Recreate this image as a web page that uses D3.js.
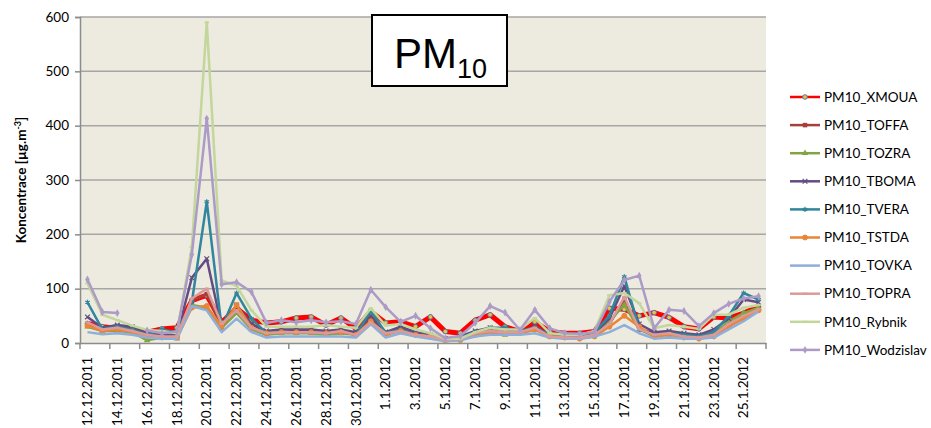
<!DOCTYPE html>
<html>
<head>
<meta charset="utf-8">
<script src="https://cdn.jsdelivr.net/npm/d3@7"></script>
<style>
  body { margin: 0; background: #fff; }
  text { font-family: Lato, "Liberation Sans", sans-serif; }
</style>
</head>
<body>
<script>
// PM10 concentrations, 12.12.2011 - 26.1.2012

// category labels (one per day)
var days = ["12.12.2011","13.12.2011","14.12.2011","15.12.2011","16.12.2011","17.12.2011",
  "18.12.2011","19.12.2011","20.12.2011","21.12.2011","22.12.2011","23.12.2011","24.12.2011",
  "25.12.2011","26.12.2011","27.12.2011","28.12.2011","29.12.2011","30.12.2011","31.12.2011",
  "1.1.2012","2.1.2012","3.1.2012","4.1.2012","5.1.2012","6.1.2012","7.1.2012","8.1.2012",
  "9.1.2012","10.1.2012","11.1.2012","12.1.2012","13.1.2012","14.1.2012","15.1.2012",
  "16.1.2012","17.1.2012","18.1.2012","19.1.2012","20.1.2012","21.1.2012","22.1.2012",
  "23.1.2012","24.1.2012","25.1.2012","26.1.2012"];

var yTicks = [0, 100, 200, 300, 400, 500, 600];

// series values
var xmoua = [36,30,27,25,20,26,28,78,88,38,64,42,37,39,46,48,33,46,27,58,37,39,30,48,21,18,42,52,30,21,39,21,18,18,21,64,62,50,56,47,30,26,48,46,55,67];
var toffa = [35,22,25,22,15,14,12,78,90,30,68,35,20,20,22,22,20,22,18,45,18,28,18,15,8,10,18,22,20,20,30,15,12,12,15,35,80,25,18,20,15,12,20,35,50,65];
var tozra = [30,22,22,20,5,10,8,70,65,28,55,25,15,18,18,18,15,18,15,55,15,25,15,12,5,8,15,18,15,18,25,12,10,10,15,40,70,25,12,15,12,10,15,40,55,65];
var tboma = [48,28,33,30,18,15,15,120,155,30,70,35,22,25,25,25,22,25,20,50,20,30,20,15,8,12,22,28,25,20,30,15,12,12,18,45,105,35,20,22,18,15,25,45,80,75];
var tvera = [75,25,30,25,15,25,20,75,260,28,92,45,18,20,20,20,18,20,15,60,18,25,15,12,5,10,20,28,28,22,28,15,12,12,20,50,122,25,15,18,15,12,20,50,92,80];
var tstda = [32,22,25,20,12,10,10,65,68,30,70,28,18,20,20,20,18,20,15,40,15,22,15,12,5,5,15,20,18,18,25,12,10,8,12,30,50,30,12,15,10,8,12,30,45,60];
var tovka = [20,16,18,15,10,8,8,68,60,20,45,20,10,12,12,12,12,12,10,35,10,18,12,8,3,5,12,15,15,15,18,10,8,8,12,20,33,18,8,10,8,8,10,25,40,58];
var topra = [38,25,28,22,15,12,12,82,100,35,60,28,18,20,20,20,18,22,15,38,18,22,15,12,5,8,18,22,20,20,28,12,10,10,15,35,85,25,15,18,12,10,15,35,50,62];
var rybnik = [110,52,42,32,24,22,18,177,590,115,105,60,30,30,30,30,33,30,28,64,32,35,25,18,8,8,20,28,25,25,46,18,15,15,22,88,92,73,27,33,30,26,52,52,65,70];
var wodzislav = [117,57,55,null,23,18,21,163,413,108,112,94,37,42,38,42,38,40,35,98,66,39,50,27,9,13,37,68,56,24,61,27,18,17,20,76,116,124,27,61,59,31,55,72,82,86];

var seriesNames = ["PM10_XMOUA","PM10_TOFFA","PM10_TOZRA","PM10_TBOMA","PM10_TVERA",
  "PM10_TSTDA","PM10_TOVKA","PM10_TOPRA","PM10_Rybnik","PM10_Wodzislav"];
var seriesValues = [xmoua, toffa, tozra, tboma, tvera, tstda, tovka, topra, rybnik, wodzislav];

var colors = ["#ff0000","#a5403d","#83a443","#634c80","#31859c","#eb8434","#8eaedb","#dc9a98","#c3d69b","#ab9bc6"];
var widths = [5, 2.5, 2.5, 2.5, 2.5, 2.5, 2.5, 2.5, 2.5, 2.5];
var shapes = ["circle","square","triangle","cross","star","circle","plus","dash","dash","diamond"];

var margin = {top: 17, left: 80, bottom: 85, right: 165};
var width = 931 - margin.left - margin.right;
var height = 428 - margin.top - margin.bottom;

var svg = d3.select("body").append("svg")
  .attr("width", 931)
  .attr("height", 428);

var g = svg.append("g")
  .attr("transform", "translate(" + margin.left + "," + margin.top + ")");

var x = d3.scaleBand().domain(days).range([0, width]).padding(0);
var y = d3.scaleLinear().domain([0, 600]).range([height, 0]);

// plot background
g.append("rect")
  .attr("width", width)
  .attr("height", height)
  .attr("fill", "#edebe0");

// gridlines
g.selectAll(".grid").data(yTicks.slice(1)).enter().append("line")
  .attr("x1", 0).attr("x2", width)
  .attr("y1", function(d) { return y(d); })
  .attr("y2", function(d) { return y(d); })
  .attr("stroke", "#a6a6a6")
  .attr("stroke-width", 1.5);

// y axis
var yAxis = g.append("g")
  .call(d3.axisLeft(y).tickValues(yTicks).tickSize(5).tickPadding(6));
yAxis.select(".domain").attr("stroke", "#8c8c8c").attr("stroke-width", 1.5);
yAxis.selectAll(".tick line").attr("stroke", "#8c8c8c").attr("stroke-width", 1.5);
yAxis.selectAll("text").style("font-size", "13.5px").attr("fill", "#000");

// x axis: labels every 2nd day, ticks on category boundaries
var xAxis = g.append("g")
  .attr("transform", "translate(0," + height + ")")
  .call(d3.axisBottom(x)
    .tickValues(days.filter(function(d, i) { return i % 2 === 0; }))
    .tickSize(0).tickPadding(0));
xAxis.select(".domain").attr("stroke", "#8c8c8c").attr("stroke-width", 1.5);
xAxis.selectAll("text")
  .style("font-size", "13.5px")
  .attr("fill", "#000")
  .attr("text-anchor", "end")
  .attr("transform", "translate(0,14) rotate(-90)")
  .attr("dy", "0.35em")
  .attr("y", 0);

var boundaries = days.filter(function(d, i) { return i % 2 === 0; }).map(function(d) { return x(d); });
boundaries.push(width);
xAxis.selectAll(".xt").data(boundaries).enter().append("line")
  .attr("x1", function(d) { return d; })
  .attr("x2", function(d) { return d; })
  .attr("y1", 0).attr("y2", 6)
  .attr("stroke", "#8c8c8c").attr("stroke-width", 1.5);

// lines
var line = d3.line()
  .defined(function(d) { return d.v !== null; })
  .x(function(d) { return x(d.day) + x.bandwidth() / 2; })
  .y(function(d) { return y(d.v); });

function marker(sel, shape, color, size) {
  var s = size;
  if (shape === "circle") {
    sel.append("circle").attr("r", s * 0.55).attr("fill", color).attr("stroke", color);
  } else if (shape === "square") {
    sel.append("rect").attr("x", -s / 2).attr("y", -s / 2).attr("width", s).attr("height", s).attr("fill", color);
  } else if (shape === "triangle") {
    sel.append("path").attr("d", d3.symbol(d3.symbolTriangle, s * s * 0.9)).attr("fill", color);
  } else if (shape === "diamond") {
    sel.append("path").attr("d", d3.symbol(d3.symbolDiamond, s * s * 0.9)).attr("fill", color);
  } else if (shape === "cross") {
    sel.append("path").attr("d", d3.symbol(d3.symbolX, s * s * 0.8)).attr("fill", "none").attr("stroke", color).attr("stroke-width", 1.2);
  } else if (shape === "star") {
    sel.append("path").attr("d", d3.symbol(d3.symbolAsterisk, s * s * 0.9)).attr("fill", "none").attr("stroke", color).attr("stroke-width", 1.2);
  } else if (shape === "plus") {
    sel.append("path").attr("d", d3.symbol(d3.symbolPlus, s * s * 0.5)).attr("fill", color);
  } else if (shape === "dash") {
    sel.append("rect").attr("x", -s / 2).attr("y", -1).attr("width", s).attr("height", 2).attr("fill", color);
  }
}

seriesValues.forEach(function(vals, k) {
  var data = vals.map(function(v, i) { return {day: days[i], v: v}; });
  g.append("path")
    .datum(data)
    .attr("fill", "none")
    .attr("stroke", colors[k])
    .attr("stroke-width", widths[k])
    .attr("stroke-linejoin", "round")
    .attr("d", line);

  var pts = g.selectAll(".m" + k)
    .data(data.filter(function(d) { return d.v !== null; }))
    .enter().append("g")
    .attr("transform", function(d) {
      return "translate(" + (x(d.day) + x.bandwidth() / 2) + "," + y(d.v) + ")";
    });
  if (k === 0) {
    pts.append("circle").attr("r", 2.3).attr("fill", "#f0c23a").attr("stroke", "#4a7ebb").attr("stroke-width", 1);
  } else {
    marker(pts, shapes[k], colors[k], 4.5);
  }
});

// y axis title
var yTitle = svg.append("text")
  .attr("transform", "translate(26," + (margin.top + height / 2) + ") rotate(-90)")
  .attr("text-anchor", "middle")
  .style("font-size", "13.5px")
  .style("font-weight", "bold");
yTitle.append("tspan").text("Koncentrace [µg.m");
yTitle.append("tspan").attr("dy", -5).style("font-size", "9px").text("-3");
yTitle.append("tspan").attr("dy", 5).text("]");

// title box
svg.append("rect")
  .attr("x", 372).attr("y", 15)
  .attr("width", 135).attr("height", 71)
  .attr("fill", "#fff")
  .attr("stroke", "#000")
  .attr("stroke-width", 2);
var title = svg.append("text")
  .attr("x", 394).attr("y", 68)
  .style("font-family", "'Liberation Sans', Arial, sans-serif")
  .style("font-size", "42px");
title.append("tspan").text("PM");
title.append("tspan").attr("dy", 10).style("font-size", "27px").text("10");

// legend
var legend = svg.selectAll(".legend")
  .data(seriesNames)
  .enter().append("g")
  .attr("class", "legend")
  .attr("transform", function(d, i) { return "translate(790," + (97 + i * 28.1) + ")"; });

legend.append("line")
  .attr("x1", 0).attr("x2", 30)
  .attr("stroke", function(d, i) { return colors[i]; })
  .attr("stroke-width", 2.5);

legend.each(function(d, i) {
  var m = d3.select(this).append("g").attr("transform", "translate(15,0)");
  if (i === 0) {
    m.append("circle").attr("r", 2.3).attr("fill", "#f0c23a").attr("stroke", "#4a7ebb").attr("stroke-width", 1);
  } else {
    marker(m, shapes[i], colors[i], 4.5);
  }
});

legend.append("text")
  .attr("x", 34)
  .attr("dy", "0.35em")
  .style("font-size", "13.5px")
  .text(function(d) { return d; });
</script>
</body>
</html>
